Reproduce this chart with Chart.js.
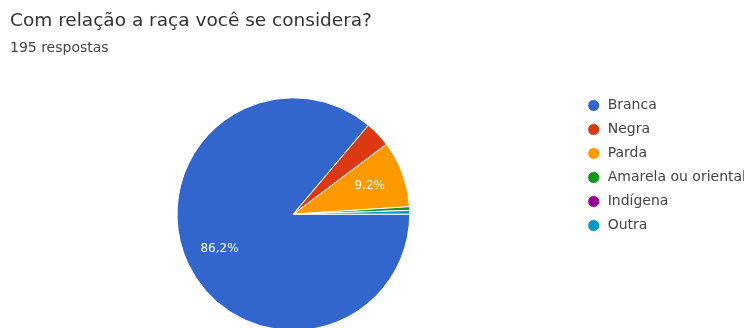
<!DOCTYPE html>
<html>
<head>
<meta charset="utf-8">
<script src="https://cdn.jsdelivr.net/npm/chart.js@4/dist/chart.umd.min.js"></script>
<style>
  html, body { margin: 0; padding: 0; background: #fff; overflow: hidden; }
  #wrap { width: 744px; height: 331px; position: relative; }
</style>
</head>
<body>
<div id="wrap"><canvas id="chart"></canvas></div>
<script>
const titleText = "Com relação a raça você se considera?";
const subtitleText = "195 respostas";
const labels = ["Branca", "Negra", "Parda", "Amarela ou oriental", "Indígena", "Outra"];
const counts = [168, 7, 18, 1, 0, 1];
const colors = ["#3366cc", "#dc3912", "#ff9900", "#109618", "#990099", "#0099c6"];

const FONT = "'DejaVu Sans', 'Liberation Sans', sans-serif";

// percent labels inside big slices, like google forms
const sliceLabels = {
  id: "sliceLabels",
  afterDatasetsDraw(chart) {
    const ctx = chart.ctx;
    const meta = chart.getDatasetMeta(0);
    const total = counts.reduce((a, b) => a + b, 0);
    ctx.save();
    ctx.fillStyle = "#fff";
    ctx.font = "12px " + FONT;
    ctx.textAlign = "center";
    ctx.textBaseline = "middle";
    meta.data.forEach((arc, i) => {
      const pct = counts[i] / total * 100;
      if (pct < 5) return;
      const p = arc.getProps(["x", "y", "startAngle", "endAngle", "outerRadius"], true);
      const mid = (p.startAngle + p.endAngle) / 2;
      const r = p.outerRadius * 0.7;
      ctx.fillText(pct.toFixed(1).replace(".", ",") + "%", p.x + Math.cos(mid) * r, p.y + Math.sin(mid) * r);
    });
    ctx.restore();
  }
};

new Chart(document.querySelector("#chart"), {
  type: "pie",
  data: {
    labels: labels,
    datasets: [{
      data: counts,
      backgroundColor: colors,
      borderColor: "#fff",
      borderWidth: 1
    }]
  },
  options: {
    responsive: true,
    maintainAspectRatio: false,
    animation: false,
    rotation: 90,
    layout: { padding: { left: 10, right: -12, top: 0, bottom: 0 } },
    plugins: {
      title: {
        display: true,
        text: titleText,
        align: "start",
        color: "#333",
        font: { family: FONT, size: 18.5, weight: "normal" },
        padding: { top: 10, bottom: 2 }
      },
      subtitle: {
        display: true,
        text: subtitleText,
        align: "start",
        color: "#444",
        font: { family: FONT, size: 14, weight: "normal" },
        padding: { top: 6, bottom: 40.3 }
      },
      legend: {
        position: "right",
        align: "center",
        fullSize: true,
        labels: {
          usePointStyle: true,
          pointStyle: "circle",
          boxHeight: 8.5,
          boxWidth: 14,
          padding: 10,
          color: "#444",
          font: { family: FONT, size: 14 }
        }
      },
      tooltip: { enabled: false }
    }
  },
  plugins: [sliceLabels]
});
</script>
</body>
</html>
